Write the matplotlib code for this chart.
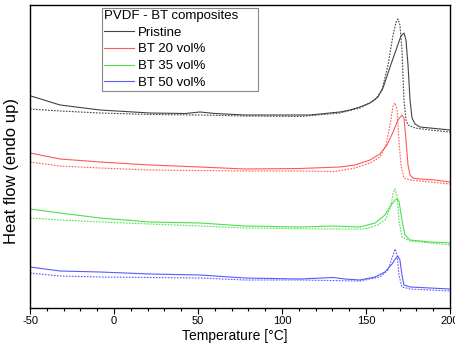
import matplotlib
matplotlib.use("Agg")
import matplotlib.pyplot as plt
from matplotlib.ticker import MultipleLocator

plt.rcParams['font.family'] = ['Liberation Sans', 'DejaVu Sans']
plt.rcParams['axes.unicode_minus'] = False

# DSC traces (heat flow in arbitrary units, curves offset vertically)
# solid = heating run, dotted = second run
T_pr = [-50, -32.1, -8.3, 21.4, 42.3, 51.2, 60.1, 78, 98.8, 116.7, 134.5, 140.5, 146.4,
        152.4, 157.1, 160.1, 164.3, 168.5, 170.8, 172.6, 173.8, 175, 176.2, 177.4,
        179.2, 182.1, 188.1, 194, 200]
Q_pr = [212.3, 203, 198, 195, 194.5, 196, 194.5, 193, 193, 193, 196, 198, 201,
        205, 211, 220, 241, 261, 272, 275, 268, 243, 208, 190,
        184, 181, 180, 179, 178]
T_pr2 = [-50, -32.1, -8.3, 21.4, 51.2, 78, 110.7, 134.5, 146.4, 155.4, 159.5, 163.1,
         166.1, 167.9, 169, 170.2, 171.4, 172.6, 173.8, 175, 179.2, 188.1, 200]
Q_pr2 = [199, 197, 195, 193.5, 193, 192, 191.5, 195, 200, 208, 218, 243,
         273, 286, 289, 283, 258, 208, 188, 183, 180, 178, 176]

T_20 = [-50, -32.1, -8.3, 21.4, 51.2, 78, 110.7, 134.5, 143.5, 152.4, 158.3, 162.5,
        166.1, 169, 171.4, 172.6, 173.8, 175, 176.2, 177.9, 182.1, 191, 200]
Q_20 = [155, 149, 146, 143, 141, 139, 139.5, 141, 143, 148, 154, 163,
        176, 188, 193, 190, 168, 143, 133, 130, 129, 128, 126]
T_20b = [-50, -32.1, -8.3, 21.4, 78, 110.7, 131.5, 143.5, 152.4, 158.3, 161.9, 164.3,
         166.1, 167.3, 168.5, 169.6, 170.8, 172.6, 176.2, 188.1, 200]
Q_20b = [146, 142, 140, 138, 137, 137, 136.5, 140, 145, 151, 163, 183,
         202, 205, 198, 168, 143, 130, 128, 126, 124]

T_35 = [-50, -32.1, -8.3, 21.4, 51.2, 78, 110.7, 130.4, 146.4, 155.4, 161.3, 164.9,
        167.3, 168.5, 169.6, 171.4, 173.2, 176.2, 188.1, 200]
Q_35 = [99, 95, 90, 86, 85, 82, 81, 82, 81, 85, 93, 103,
        108, 109, 107, 88, 73, 68, 66, 65]
T_35b = [-50, -32.1, -8.3, 21.4, 51.2, 78, 128.6, 149.4, 157.1, 161.9, 164.9, 166.1,
         167.3, 168.5, 169.6, 171.4, 176.2, 188.1, 200]
Q_35b = [90, 88, 86, 84, 82, 80, 79, 79, 83, 89, 103, 115,
         119, 112, 88, 71, 67, 65, 63]

T_50 = [-50, -32.1, -8.3, 21.4, 51.2, 78, 110.7, 130.4, 137.5, 146.4, 155.4, 161.3,
        165.5, 167.9, 169, 170.2, 171.4, 172.6, 176.2, 188.1, 200]
Q_50 = [41, 37, 36, 34, 33, 30, 29, 30.5, 29, 28, 31, 36,
        44, 50, 52, 48, 33, 23, 21, 20, 19]
T_50b = [-50, -32.1, -8.3, 51.2, 78, 110.7, 146.4, 158.3, 163.1, 165.5, 167.3, 168.5,
         169.6, 171.4, 176.2, 188.1, 200]
Q_50b = [35, 32, 31, 30, 28, 28, 27, 31, 38, 50, 59, 53,
         33, 21, 19, 18, 17]

labels = ["Pristine", "BT 20 vol%", "BT 35 vol%", "BT 50 vol%"]
colors = ["#444444", "#ff5a5a", "#4ee04e", "#5a5aff"]

fig = plt.figure(figsize=(4.56, 3.47), dpi=100)
ax = fig.add_axes([30 / 456, 39 / 347, 420 / 456, 303 / 347])

runs = [(T_pr, Q_pr, T_pr2, Q_pr2), (T_20, Q_20, T_20b, Q_20b),
        (T_35, Q_35, T_35b, Q_35b), (T_50, Q_50, T_50b, Q_50b)]
handles = []
for (t1, q1, t2, q2), lab, c in zip(runs, labels, colors):
    h, = ax.plot(t1, q1, color=c, lw=0.8, label=lab)
    ax.plot(t2, q2, color=c, lw=0.8, ls=(0, (1.5, 1.2)))
    handles.append(h)

ax.set_xlim(-50, 200)
ax.set_ylim(0, 303)
ax.xaxis.set_major_locator(MultipleLocator(50))
ax.xaxis.set_minor_locator(MultipleLocator(10))
ax.tick_params(axis='x', which='major', direction='out', length=4, width=0.8,
               labelsize=8, pad=2)
ax.tick_params(axis='x', which='minor', direction='out', length=2.5, width=0.8)
ax.set_yticks([])
for s in ax.spines.values():
    s.set_linewidth(1.0)
    s.set_color('black')

ax.set_xlabel("Temperature [°C]", fontsize=10)
ax.xaxis.set_label_coords(0.488, -0.068)
ax.set_ylabel("Heat flow (endo up)", fontsize=12)
ax.yaxis.set_label_coords(-0.027, 0.452)

leg = ax.legend(handles=handles, title="PVDF - BT composites", loc='upper left',
                bbox_to_anchor=(0.171, 0.99 - 0.27, 0.371, 0.27), mode='expand',
                borderaxespad=0, fontsize=9.5,
                title_fontsize=9.5, fancybox=False, edgecolor='#888888',
                framealpha=1, handlelength=2.3, handletextpad=0.3,
                labelspacing=0.34, borderpad=0.15)
leg.get_frame().set_linewidth(0.8)
leg._legend_box.align = "left"

fig.savefig("out.png", dpi=100)
